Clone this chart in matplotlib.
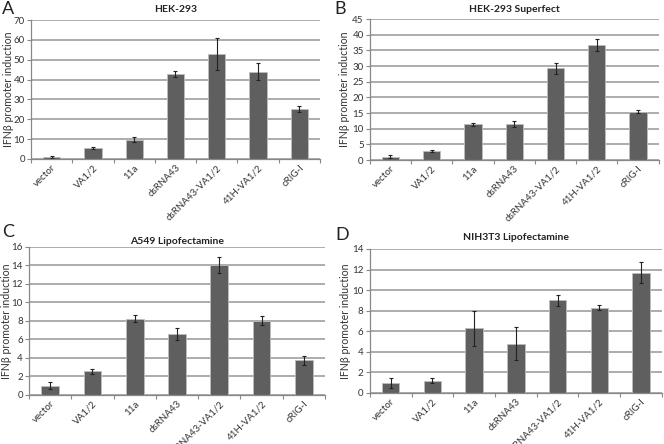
import numpy as np
import matplotlib
matplotlib.use("Agg")
import matplotlib.pyplot as plt

plt.rcParams['font.family'] = ['Lato', 'DejaVu Sans']

# categories
labels = ["vector", "VA1/2", "11a", "dsRNA43", "dsRNA43-VA1/2", "41H-VA1/2", "cRIG-I"]

# values
hek_vals = [1.0, 5.7, 9.7, 43.0, 53.0, 44.0, 25.0]
hek_err = [0.3, 0.5, 1.3, 1.5, 8.0, 4.3, 1.5]

super_vals = [1.0, 2.8, 11.4, 11.4, 29.3, 36.7, 15.4]
super_err = [0.5, 0.3, 0.4, 1.0, 1.8, 2.0, 0.5]

a549_vals = [1.0, 2.55, 8.25, 6.55, 14.05, 8.05, 3.75]
a549_err = [0.35, 0.3, 0.35, 0.65, 0.9, 0.45, 0.5]

nih_vals = [1.0, 1.2, 6.3, 4.8, 9.0, 8.3, 11.7]
nih_err = [0.5, 0.25, 1.7, 1.6, 0.5, 0.25, 1.05]

fig = plt.figure(figsize=(6.64, 4.44), dpi=100)

def panel(rect, vals, err, ymax, ystep, title, letter, letter_pos, title_y, ylab_x):
    ax = fig.add_axes(rect)
    x = np.arange(len(labels))
    ax.set_axisbelow(True)
    ax.yaxis.grid(True, color="#a6a6a6", linewidth=1.3)
    ax.bar(x, vals, width=0.42, color="#5f5f5f", edgecolor="#bdbdbd", linewidth=0.6,
           yerr=err, error_kw=dict(ecolor="#222222", elinewidth=0.8, capsize=1.2, capthick=0.8))
    ax.set_xlim(-0.5, len(labels) - 0.5)
    ax.set_ylim(0, ymax)
    ax.set_yticks(np.arange(0, ymax + 0.01, ystep))
    ax.set_xticks(x)
    ax.set_xticklabels(labels, rotation=45, ha="right", rotation_mode="anchor", fontsize=7, color="#333333")
    ax.tick_params(axis="x", length=0, pad=3)
    # tick marks at category boundaries
    ax.set_xticks(np.arange(-0.5, len(labels)), minor=True)
    ax.tick_params(axis="x", which="minor", length=3, color="#888888", width=0.8)
    ax.tick_params(axis="y", length=3, color="#888888", width=0.8, labelsize=7, pad=1.5, labelcolor="#333333")
    for s in ["top", "right"]:
        ax.spines[s].set_visible(False)
    for s in ["left", "bottom"]:
        ax.spines[s].set_color("#888888")
        ax.spines[s].set_linewidth(0.9)
    ax.set_ylabel("IFN\u03b2 promoter induction", fontsize=7.6, color="#333333")
    # y label at a fixed x position (pixels), centred on the axes
    ax.yaxis.set_label_coords(ylab_x / 664, rect[1] + rect[3] / 2, transform=fig.transFigure)
    fig.text(rect[0] + rect[2] / 2, title_y, title, ha="center", va="center",
             fontsize=7.5, fontweight="bold", color="#222222")
    fig.text(letter_pos[0], letter_pos[1], letter, ha="left", va="center", fontsize=13, color="#222222")
    return ax

panel([0.0467, 0.6419, 0.435, 0.313], hek_vals, hek_err, 70, 10,
      "HEK-293", "A", (0.003, 1 - 9 / 444), 1 - 10 / 444, 14)
panel([0.557, 0.6396, 0.435, 0.3176], super_vals, super_err, 45, 5,
      "HEK-293 Superfect", "B", (0.503, 1 - 9 / 444), 1 - 10 / 444, 350)
panel([0.0437, 0.1104, 0.4458, 0.3333], a549_vals, a549_err, 16, 2,
      "A549 Lipofectamine", "C", (0.003, 1 - 232 / 444), 1 - 241 / 444, 12)
panel([0.557, 0.1149, 0.4398, 0.3243], nih_vals, nih_err, 14, 2,
      "NIH3T3 Lipofectamine", "D", (0.505, 1 - 235 / 444), 1 - 237 / 444, 351)

fig.savefig("out.png", dpi=100)
